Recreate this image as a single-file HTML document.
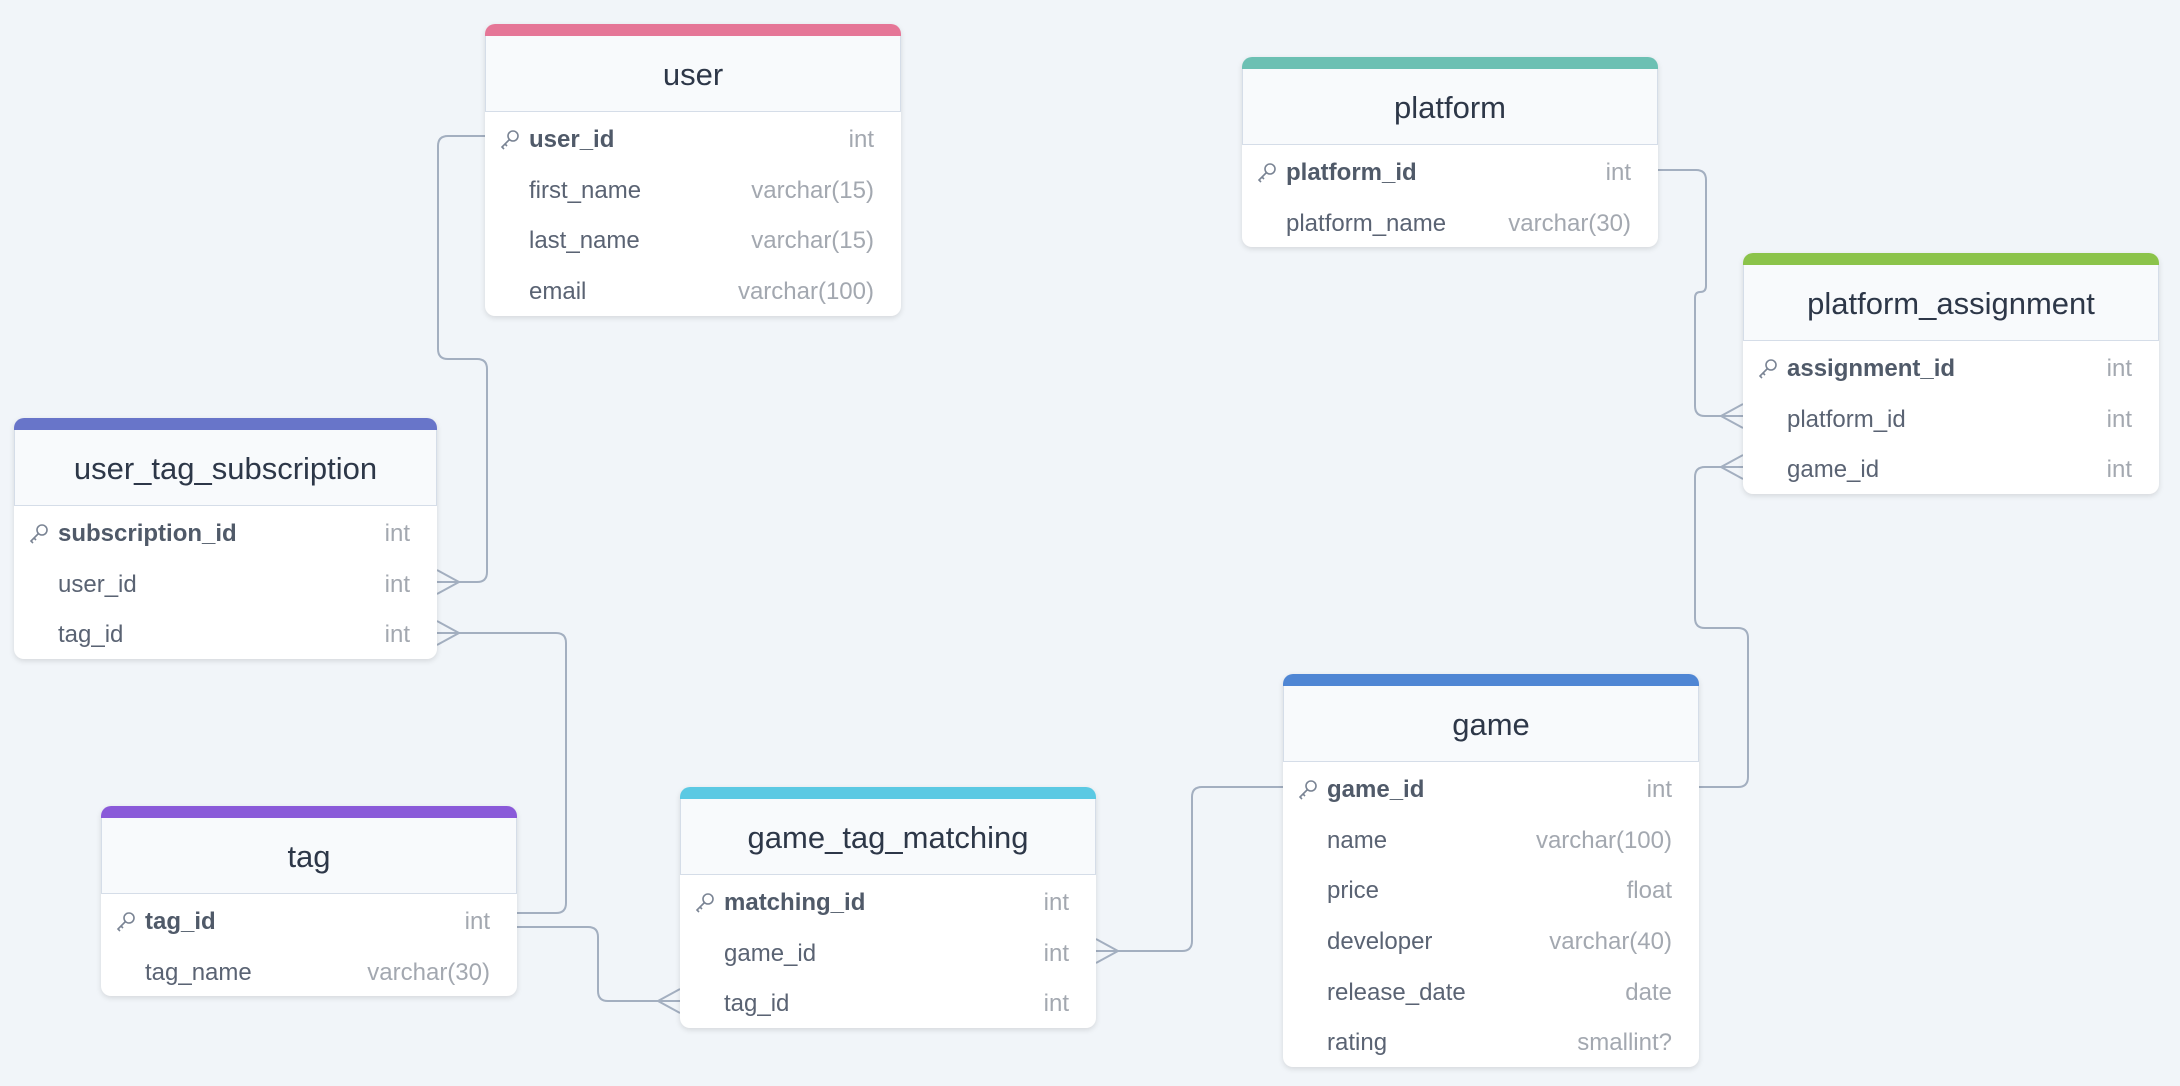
<!DOCTYPE html>
<html><head><meta charset="utf-8"><style>
html,body{margin:0;padding:0;}
body{width:2180px;height:1086px;background:#f1f5f9;position:relative;overflow:hidden;font-family:"Liberation Sans",sans-serif;}
svg.lines{position:absolute;left:0;top:0;}
.t{position:absolute;width:416px;background:#fff;border-radius:10px;box-shadow:0 2px 6px rgba(0,0,0,0.12);overflow:hidden;padding-bottom:1px;}
.bar{height:12px;}
.hd{height:76px;background:#f8fafc;border:1px solid #d5dde8;border-top:none;box-sizing:border-box;text-align:center;line-height:78px;font-size:31px;color:#2d3748;}
.r{height:50.7px;position:relative;font-size:24px;line-height:50.7px;color:#5a6373;}
.r .n{position:absolute;left:44px;top:3px;}
.r .ty{position:absolute;right:27px;top:3px;color:#a3a8b0;}
.r.pk .n{font-weight:bold;color:#505a69;}
.r svg{position:absolute;left:14px;top:16px;}
</style></head><body>
<svg class="lines" width="2180" height="1086" fill="none" stroke="#a3afc0" stroke-width="2">
<path d="M485 136 H448 Q438 136 438 146 V349 Q438 359 448 359 H477 Q487 359 487 369 V572 Q487 582 477 582 H437"/>
<path d="M437 570 L459 582 L437 594"/>
<path d="M437 633 H556 Q566 633 566 643 V903 Q566 913 556 913 H517"/>
<path d="M437 621 L459 633 L437 645"/>
<path d="M517 927 H588 Q598 927 598 937 V991 Q598 1001 608 1001 H680"/>
<path d="M680 989 L658 1001 L680 1013"/>
<path d="M1283 787 H1202 Q1192 787 1192 797 V941 Q1192 951 1182 951 H1096"/>
<path d="M1096 939 L1118 951 L1096 963"/>
<path d="M1699 787 H1738 Q1748 787 1748 777 V638 Q1748 628 1738 628 H1705 Q1695 628 1695 618 V477 Q1695 467 1705 467 H1743"/>
<path d="M1743 455 L1721 467 L1743 479"/>
<path d="M1657 170 H1696 Q1706 170 1706 180 V286 Q1706 292 1700 292 Q1695 292 1695 298 V406 Q1695 416 1705 416 H1743"/>
<path d="M1743 404 L1721 416 L1743 428"/>
</svg>

<div class="t" style="left:485px;top:24px;"><div class="bar" style="background:#e57697"></div><div class="hd">user</div>
<div class="r pk"><svg width="22" height="22" viewBox="0 0 22 22" fill="none" stroke="#7a8494" stroke-width="1.6"><circle cx="14" cy="8" r="5"/><path d="M10.5 11.5 L3 19 L5 21 M6 16 L8 18"/></svg><span class="n">user_id</span><span class="ty">int</span></div>
<div class="r"><span class="n">first_name</span><span class="ty">varchar(15)</span></div>
<div class="r"><span class="n">last_name</span><span class="ty">varchar(15)</span></div>
<div class="r"><span class="n">email</span><span class="ty">varchar(100)</span></div>
</div>

<div class="t" style="left:1242px;top:57px;"><div class="bar" style="background:#6cc0b3"></div><div class="hd">platform</div>
<div class="r pk"><svg width="22" height="22" viewBox="0 0 22 22" fill="none" stroke="#7a8494" stroke-width="1.6"><circle cx="14" cy="8" r="5"/><path d="M10.5 11.5 L3 19 L5 21 M6 16 L8 18"/></svg><span class="n">platform_id</span><span class="ty">int</span></div>
<div class="r"><span class="n">platform_name</span><span class="ty">varchar(30)</span></div>
</div>

<div class="t" style="left:1743px;top:253px;"><div class="bar" style="background:#8bc34a"></div><div class="hd">platform_assignment</div>
<div class="r pk"><svg width="22" height="22" viewBox="0 0 22 22" fill="none" stroke="#7a8494" stroke-width="1.6"><circle cx="14" cy="8" r="5"/><path d="M10.5 11.5 L3 19 L5 21 M6 16 L8 18"/></svg><span class="n">assignment_id</span><span class="ty">int</span></div>
<div class="r"><span class="n">platform_id</span><span class="ty">int</span></div>
<div class="r"><span class="n">game_id</span><span class="ty">int</span></div>
</div>

<div class="t" style="left:14px;top:418px;width:423px;"><div class="bar" style="background:#6875c9"></div><div class="hd">user_tag_subscription</div>
<div class="r pk"><svg width="22" height="22" viewBox="0 0 22 22" fill="none" stroke="#7a8494" stroke-width="1.6"><circle cx="14" cy="8" r="5"/><path d="M10.5 11.5 L3 19 L5 21 M6 16 L8 18"/></svg><span class="n">subscription_id</span><span class="ty">int</span></div>
<div class="r"><span class="n">user_id</span><span class="ty">int</span></div>
<div class="r"><span class="n">tag_id</span><span class="ty">int</span></div>
</div>

<div class="t" style="left:101px;top:806px;"><div class="bar" style="background:#8a5ad9"></div><div class="hd">tag</div>
<div class="r pk"><svg width="22" height="22" viewBox="0 0 22 22" fill="none" stroke="#7a8494" stroke-width="1.6"><circle cx="14" cy="8" r="5"/><path d="M10.5 11.5 L3 19 L5 21 M6 16 L8 18"/></svg><span class="n">tag_id</span><span class="ty">int</span></div>
<div class="r"><span class="n">tag_name</span><span class="ty">varchar(30)</span></div>
</div>

<div class="t" style="left:680px;top:787px;"><div class="bar" style="background:#5bc9e3"></div><div class="hd">game_tag_matching</div>
<div class="r pk"><svg width="22" height="22" viewBox="0 0 22 22" fill="none" stroke="#7a8494" stroke-width="1.6"><circle cx="14" cy="8" r="5"/><path d="M10.5 11.5 L3 19 L5 21 M6 16 L8 18"/></svg><span class="n">matching_id</span><span class="ty">int</span></div>
<div class="r"><span class="n">game_id</span><span class="ty">int</span></div>
<div class="r"><span class="n">tag_id</span><span class="ty">int</span></div>
</div>

<div class="t" style="left:1283px;top:674px;"><div class="bar" style="background:#4f86d4"></div><div class="hd">game</div>
<div class="r pk"><svg width="22" height="22" viewBox="0 0 22 22" fill="none" stroke="#7a8494" stroke-width="1.6"><circle cx="14" cy="8" r="5"/><path d="M10.5 11.5 L3 19 L5 21 M6 16 L8 18"/></svg><span class="n">game_id</span><span class="ty">int</span></div>
<div class="r"><span class="n">name</span><span class="ty">varchar(100)</span></div>
<div class="r"><span class="n">price</span><span class="ty">float</span></div>
<div class="r"><span class="n">developer</span><span class="ty">varchar(40)</span></div>
<div class="r"><span class="n">release_date</span><span class="ty">date</span></div>
<div class="r"><span class="n">rating</span><span class="ty">smallint?</span></div>
</div>
</body></html>
